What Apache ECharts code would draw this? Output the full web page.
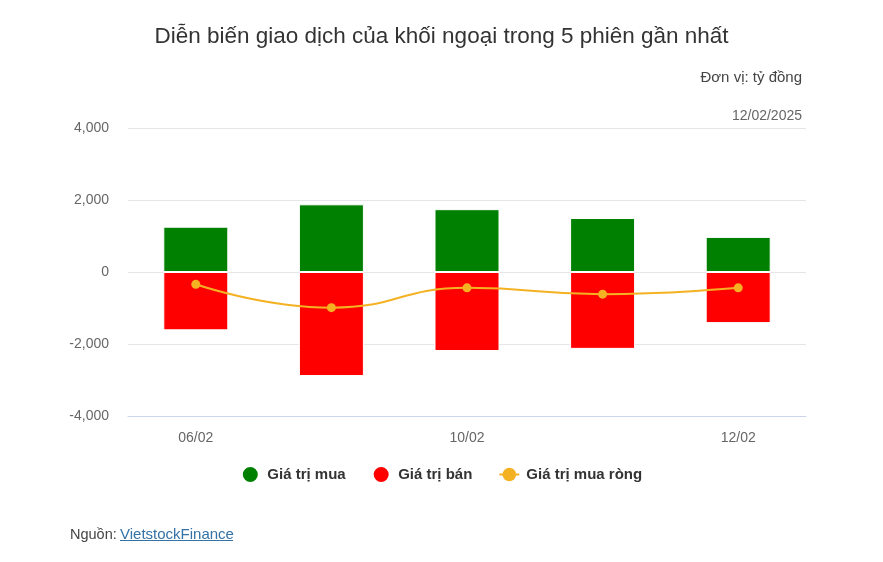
<!DOCTYPE html>
<html><head><meta charset="utf-8">
<script src="https://cdn.jsdelivr.net/npm/echarts@6/dist/echarts.min.js"></script>
<style>html,body{margin:0;padding:0;background:#fff}#c{width:883px;height:562px}</style>
</head><body><div id="c"></div>
<script>
const categories = ['06/02', '07/02', '10/02', '11/02', '12/02'];
const buyValues = [1258, 1880, 1745, 1500, 975];
const sellValues = [-1620, -2890, -2195, -2135, -1420];
const netValues = [-342, -990, -440, -615, -440];
const yTicks = [-4000, -2000, 0, 2000, 4000];

const chart = echarts.init(document.getElementById('c'));
const font = '"Liberation Sans", Arial, sans-serif';
chart.setOption({
  animation: false,
  textStyle: { fontFamily: font },
  title: [
    { text: 'Diễn biến giao dịch của khối ngoại trong 5 phiên gần nhất', left: 'center', top: 20,
      textStyle: { fontSize: 22.5, fontWeight: 'normal', color: '#333', fontFamily: font } },
    { text: 'Đơn vị: tỷ đồng', right: 81, top: 70, padding: 0, textStyle: { fontSize: 15, fontWeight: 'normal', color: '#444', fontFamily: font } },
    { text: '12/02/2025', right: 81, top: 109, padding: 0, textStyle: { fontSize: 14, fontWeight: 'normal', color: '#666', fontFamily: font } }
  ],
  grid: { left: 128, right: 77, top: 128, bottom: 146, containLabel: false },
  legend: {
    top: 460, left: 'center', itemGap: 26, itemWidth: 20, itemHeight: 17,
    textStyle: { fontSize: 15, fontWeight: 'bold', color: '#333', fontFamily: font, padding: [0, 0, 0, 2] },
    data: [
      { name: 'Giá trị mua', icon: 'circle' },
      { name: 'Giá trị bán', icon: 'circle' },
      { name: 'Giá trị mua ròng' }
    ]
  },
  xAxis: {
    type: 'category', data: categories,
    axisLine: { onZero: false, lineStyle: { color: '#ccd6eb' } },
    axisTick: { show: false },
    axisLabel: { interval: 1, color: '#666', fontSize: 14, margin: 15 },
    position: 'bottom'
  },
  yAxis: {
    type: 'value', min: -4000, max: 4000, interval: 2000,
    axisLabel: { color: '#666', fontSize: 14, margin: 19,
      formatter: v => yTicks.includes(v) ? v.toLocaleString('en-US') : '' },
    splitLine: { lineStyle: { color: '#e6e6e6' } },
    axisLine: { show: false }, axisTick: { show: false }
  },
  series: [
    { name: 'Giá trị mua', type: 'bar', stack: 'a', data: buyValues, barWidth: 65,
      itemStyle: { color: '#008000', borderColor: '#fff', borderWidth: 1 } },
    { name: 'Giá trị bán', type: 'bar', stack: 'a', data: sellValues, barWidth: 65,
      itemStyle: { color: '#ff0000', borderColor: '#fff', borderWidth: 1 } },
    { name: 'Giá trị mua ròng', type: 'line', data: netValues, smooth: true, z: 5,
      symbol: 'circle', symbolSize: 9,
      lineStyle: { color: '#f4b223', width: 2 },
      itemStyle: { color: '#f4b223' } }
  ],
  graphic: [
    { type: 'text', left: 70, top: 527, style: { text: 'Nguồn:', fontSize: 14.5, fill: '#444', fontFamily: font } },
    { type: 'text', left: 120, top: 527, style: { text: 'VietstockFinance', fontSize: 15, fill: '#3572a5', fontFamily: font } },
    { type: 'line', shape: { x1: 120, y1: 540.5, x2: 233, y2: 540.5 }, style: { stroke: '#3572a5', lineWidth: 1 } }
  ]
});
</script></body></html>
